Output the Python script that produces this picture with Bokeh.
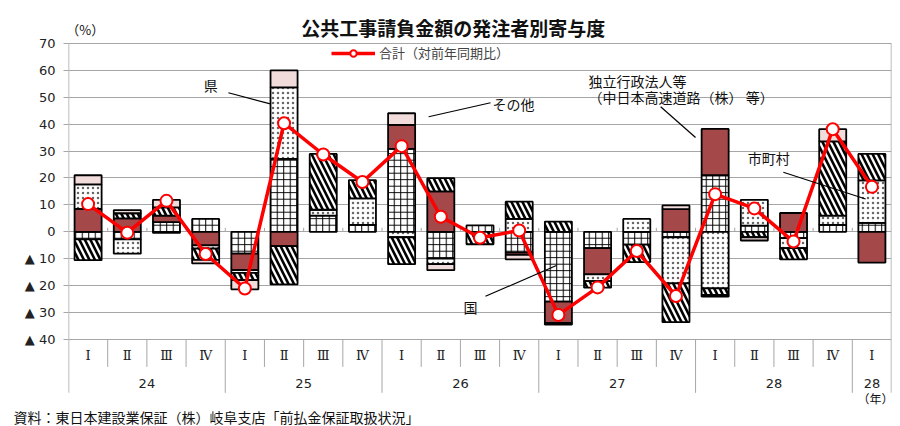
import numpy as np
from bokeh.plotting import figure
from bokeh.models import Range1d, FixedTicker, Legend, ColumnDataSource, Title
from bokeh.core.properties import value
from bokeh.embed import file_html
from bokeh.resources import INLINE

# ---------------- data ----------------
quarters = ["Ⅰ", "Ⅱ", "Ⅲ", "Ⅳ", "Ⅰ", "Ⅱ", "Ⅲ", "Ⅳ", "Ⅰ", "Ⅱ", "Ⅲ", "Ⅳ",
            "Ⅰ", "Ⅱ", "Ⅲ", "Ⅳ", "Ⅰ", "Ⅱ", "Ⅲ", "Ⅳ", "Ⅰ"]
years = ["24", "25", "26", "27", "28", "28"]
year_counts = [4, 4, 4, 4, 4, 1]

kuni = [-2.8, -2.8, 3.6, 4.8, -8.1, 27.1, 6.0, 2.6, 30.8, -9.9, 2.4, -7.7,
        -25.9, -6.0, -4.7, -2.0, 21.0, 2.3, -2.3, 2.6, 3.3]
dokuritsu = [8.5, 5.0, 2.4, -5.0, -6.1, -5.3, 0, 0, 8.9, 15.0, 0, -0.8,
             -7.9, -9.8, 0, 8.4, 17.2, 0, 7.0, 0, -11.4]
ken = [9.1, -5.3, -0.4, -1.2, -1.0, 26.5, 2.2, 9.8, -2.0, -2.1, 0, 4.8,
       0, -2.5, 4.8, -17.1, -21.0, 9.6, -3.7, 3.4, 15.8]
shichoson = [-7.7, 1.9, 3.1, -4.2, -2.7, -14.2, 20.7, 6.8, -10.0, 4.9, -4.6, 6.4,
             3.8, -2.4, -6.5, -14.4, -2.4, -2.0, -4.2, 27.6, 9.8]
sonota = [3.4, 1.2, 2.8, -1.3, -3.4, 6.3, 0, 0, 4.3, -2.2, 0, -1.7,
          -0.6, 0, 0, 1.4, -0.6, -1.2, 0, 4.5, 0]
total = [10.3, -0.3, 11.5, -8.2, -21.0, 40.3, 28.7, 18.5, 31.8, 5.6, -2.2, 0.5,
         -30.8, -20.6, -7.1, -23.8, 14.0, 8.7, -3.6, 38.1, 16.7]
y_ticks = [-40, -30, -20, -10, 0, 10, 20, 30, 40, 50, 60, 70]

# ---------------- styles / layout ----------------
JP = "Noto Sans CJK JP"
NUM = "DejaVu Sans"
GRID = "#A6A6A6"
series = [
    ("国", kuni, dict(fill_color="white", hatch_pattern="cross", hatch_scale=6.5, hatch_weight=1.0,
                      hatch_color="black")),
    ("独立行政法人等", dokuritsu, dict(fill_color="#A5484A")),
    ("県", ken, dict(fill_color="white", hatch_pattern="dot", hatch_scale=5, hatch_weight=0.35,
                     hatch_color="#666666")),
    ("市町村", shichoson, dict(fill_color="white", hatch_pattern="left_diagonal_line", hatch_scale=11,
                           hatch_weight=2.6, hatch_color="black")),
    ("その他", sonota, dict(fill_color="#F2DCDB")),
]

W, H = 900, 426
LEFT, RIGHT, BOTTOM = 68, 9, 19
PX = 298.7 / 110.0               # pixels per percentage point
Y_END = 70 + 43 / PX             # frame reaches the top of the canvas
Y_START = Y_END - (H - BOTTOM) / PX
AX_BOTTOM = -59.7                # lower end of the axis / year separators

n = len(quarters)
xc = np.arange(n) + 0.5

p = figure(width=W, height=H, output_backend="svg", toolbar_location=None,
           x_range=Range1d(0, n), y_range=Range1d(Y_START, Y_END),
           x_axis_location=None, min_border_left=LEFT, min_border_right=RIGHT,
           min_border_top=0, min_border_bottom=BOTTOM)
p.outline_line_color = None
p.xgrid.visible = False
p.ygrid.grid_line_color = GRID
p.ygrid.grid_line_width = 1
p.yaxis.ticker = FixedTicker(ticks=y_ticks)
p.yaxis.major_label_overrides = {t: ("▲ %d" % (-t) if t < 0 else str(t)) for t in y_ticks}
p.yaxis.axis_line_color = None
p.yaxis.major_tick_line_color = GRID
p.yaxis.major_tick_in = 0
p.yaxis.major_tick_out = 5
p.yaxis.minor_tick_line_color = None
p.yaxis.major_label_text_font = NUM
p.yaxis.major_label_text_font_size = "13px"
p.yaxis.major_label_text_color = "#222222"
p.yaxis.major_label_standoff = 8

# frame lines: left axis line and right border
p.segment(x0=[0, n], x1=[0, n], y0=AX_BOTTOM, y1=y_ticks[-1], line_color=GRID, line_width=1.5)

# small ticks along zero line between categories
bounds = np.arange(1, n)
p.segment(x0=bounds, x1=bounds, y0=0, y1=1.5, line_color=GRID, line_width=1)

# stacked bars (positive and negative stacks separately)
pos = np.zeros(n)
neg = np.zeros(n)
for name, vals, st in series:
    v = np.array(vals, dtype=float)
    bottom = np.where(v >= 0, pos, neg)
    top = bottom + v
    pos = np.where(v > 0, pos + v, pos)
    neg = np.where(v < 0, neg + v, neg)
    m = v != 0
    src = ColumnDataSource(dict(x=xc[m], bottom=bottom[m], top=top[m]))
    p.vbar(x="x", bottom="bottom", top="top", width=0.69, source=src,
           line_color="black", line_width=1.8, **st)

# total line
r_line = p.line(xc, total, line_color="#FF0000", line_width=3.5)
r_pts = p.scatter(xc, total, size=12, fill_color="white", line_color="#FF0000", line_width=2)

legend = Legend(items=[("合計（対前年同期比）", [r_line, r_pts])],
                location=(263, (H - BOTTOM) - 65),
                glyph_width=44, glyph_height=16, label_text_font=JP,
                label_text_font_size="13px", border_line_color=None,
                background_fill_alpha=0, padding=2, margin=0, label_standoff=4)
p.add_layout(legend)

# category axis (quarters / years)
Q_Y, Q_SEP, YR_Y = -46.0, -50.1, -56.4
year_edges = np.cumsum(year_counts)
year_starts = year_edges - np.array(year_counts)
short = [b for b in bounds if b not in set(year_edges)]
p.segment(x0=short, x1=short, y0=-40, y1=Q_SEP, line_color=GRID, line_width=1)
longb = [b for b in year_edges if b < n]
p.segment(x0=longb, x1=longb, y0=-40, y1=AX_BOTTOM, line_color=GRID, line_width=1)
p.text(x=xc, y=Q_Y, text=quarters, text_align="center", text_baseline="middle",
       text_font=value("DejaVu Serif"), text_font_size="13px", text_color="#222222")
p.text(x=year_starts + np.array(year_counts) / 2.0, y=YR_Y, text=years,
       text_align="center", text_baseline="middle", text_font=value(NUM),
       text_font_size="13px", text_color="#222222")

# texts inside the frame: title, unit labels, annotations
texts = dict(
    t=["公共工事請負金額の発注者別寄与度", "（%）", "（年）"],
    x=[9.82, 0.43, 20.59], y=[75.9, 75.1, -61.9],
    size=["19px", "13px", "12px"], style=["bold", "normal", "normal"],
)
p.text(x="x", y="y", text="t", source=ColumnDataSource(texts), text_align="center",
       text_baseline="middle", text_font=value(JP), text_font_size="size",
       text_font_style="style", text_color="#111111")

notes = dict(
    t=["県", "その他", "独立行政法人等", "（中日本高速道路（株） 等）", "市町村", "国"],
    x=[3.45, 10.82, 13.27, 13.27, 17.33, 10.08],
    y=[54.5, 47.5, 56.0, 50.1, 27.3, -28.0],
)
p.text(x="x", y="y", text="t", source=ColumnDataSource(notes), text_align="left",
       text_baseline="middle", text_font=value(JP), text_font_size="14px", text_color="#111111")
leaders = dict(x0=[4.08, 9.19, 15.11, 18.24, 10.64], y0=[51.6, 42.7, 46.4, 22.1, -23.9],
               x1=[5.15, 10.77, 16.0, 20.34, 12.45], y1=[47.5, 47.9, 35.0, 12.2, -12.5])
p.segment(x0="x0", y0="y0", x1="x1", y1="y1", source=ColumnDataSource(leaders),
          line_color="black", line_width=1.2)

# source note below the frame
p.add_layout(Title(text="資料：東日本建設業保証（株）岐阜支店「前払金保証取扱状況」",
                   align="left", offset=13 - LEFT, standoff=0, text_font=JP,
                   text_font_size="14px", text_font_style="normal", text_color="#111111"),
             "below")

open("out.html", "w").write(file_html(p, INLINE))
